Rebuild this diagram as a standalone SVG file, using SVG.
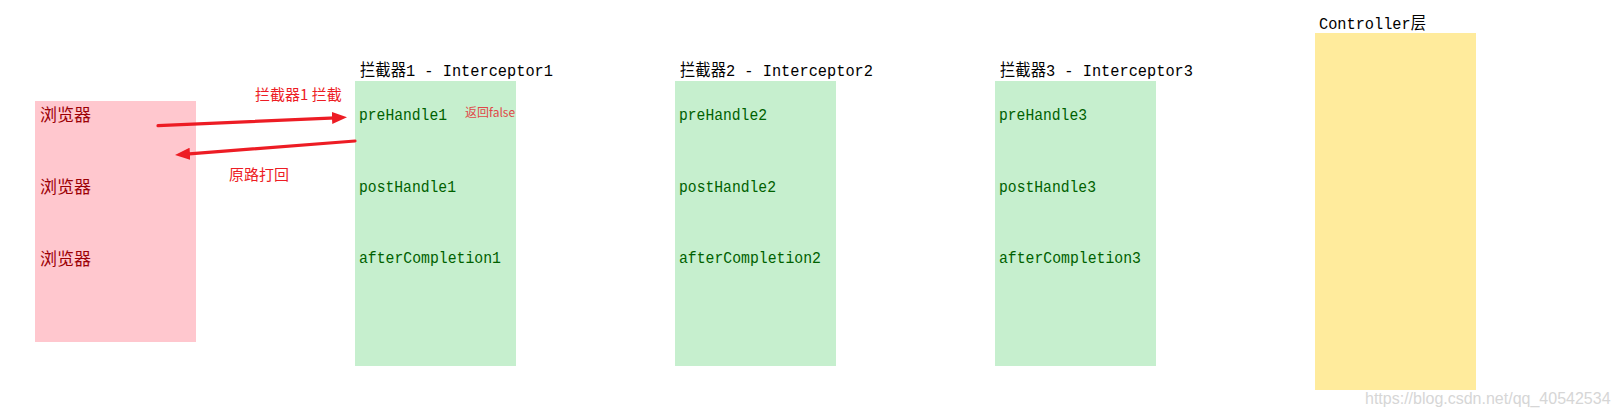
<svg xmlns="http://www.w3.org/2000/svg" width="1617" height="416" viewBox="0 0 1617 416">
  <style>
    .mono { font-family: "Liberation Mono", "Noto Sans CJK SC", monospace; font-size: 16.5px; }
    .title { fill: #000000; }
    .step { fill: #006100; }
    .browser { font-family: "Noto Sans CJK SC", sans-serif; font-size: 17px; fill: #9C0006; }
    .label { font-family: "Noto Sans CJK SC", "Liberation Sans", sans-serif; font-size: 15px; fill: #ED1C24; }
    .small { font-family: "Noto Sans CJK SC", "Liberation Sans", sans-serif; font-size: 12px; fill: #E04848; }
    .arrow { stroke: #ED1C24; stroke-width: 3.2; fill: none; stroke-linecap: round; }
    .wm { font-family: "Liberation Sans", Arial, sans-serif; font-size: 16px; fill: #d6d6d6; }
  </style>
  <defs>
    <marker id="head" markerUnits="userSpaceOnUse" markerWidth="16" markerHeight="13" refX="4" refY="6" orient="auto">
      <path d="M0,0 L15,6 L0,12 Z" fill="#ED1C24"/>
    </marker>
  </defs>
  <rect width="1617" height="416" fill="#ffffff"/>

  <g id="browser">
    <rect x="35" y="101" width="161" height="241" fill="#FFC7CE"/>
    <text class="browser" x="40" y="121">浏览器</text>
    <text class="browser" x="40" y="193">浏览器</text>
    <text class="browser" x="40" y="265">浏览器</text>
  </g>

  <g id="interceptor1">
    <text class="mono title" x="360" y="76" textLength="193" lengthAdjust="spacingAndGlyphs">拦截器1 - Interceptor1</text>
    <rect x="355" y="81" width="161" height="285" fill="#C6EFCE"/>
    <text class="mono step" x="359" y="120" textLength="88" lengthAdjust="spacingAndGlyphs">preHandle1</text>
    <text class="mono step" x="359" y="192" textLength="97" lengthAdjust="spacingAndGlyphs">postHandle1</text>
    <text class="mono step" x="359" y="263" textLength="142" lengthAdjust="spacingAndGlyphs">afterCompletion1</text>
    <text class="small" x="465" y="117">返回false</text>
  </g>

  <g id="interceptor2">
    <text class="mono title" x="680" y="76" textLength="193" lengthAdjust="spacingAndGlyphs">拦截器2 - Interceptor2</text>
    <rect x="675" y="81" width="161" height="285" fill="#C6EFCE"/>
    <text class="mono step" x="679" y="120" textLength="88" lengthAdjust="spacingAndGlyphs">preHandle2</text>
    <text class="mono step" x="679" y="192" textLength="97" lengthAdjust="spacingAndGlyphs">postHandle2</text>
    <text class="mono step" x="679" y="263" textLength="142" lengthAdjust="spacingAndGlyphs">afterCompletion2</text>
  </g>

  <g id="interceptor3">
    <text class="mono title" x="1000" y="76" textLength="193" lengthAdjust="spacingAndGlyphs">拦截器3 - Interceptor3</text>
    <rect x="995" y="81" width="161" height="285" fill="#C6EFCE"/>
    <text class="mono step" x="999" y="120" textLength="88" lengthAdjust="spacingAndGlyphs">preHandle3</text>
    <text class="mono step" x="999" y="192" textLength="97" lengthAdjust="spacingAndGlyphs">postHandle3</text>
    <text class="mono step" x="999" y="263" textLength="142" lengthAdjust="spacingAndGlyphs">afterCompletion3</text>
  </g>

  <g id="controller">
    <text class="mono title" x="1319" y="29" textLength="107" lengthAdjust="spacingAndGlyphs">Controller层</text>
    <rect x="1315" y="33" width="161" height="357" fill="#FFEB9C"/>
  </g>

  <g id="connectors">
    <line class="arrow" x1="158" y1="125.7" x2="336" y2="117.8" marker-end="url(#head)"/>
    <line class="arrow" x1="355" y1="141" x2="186" y2="154.1" marker-end="url(#head)"/>
    <text class="label" x="255" y="100">拦截器1 拦截</text>
    <text class="label" x="229" y="180">原路打回</text>
  </g>

  <text class="wm" x="1365" y="404">https://blog.csdn.net/qq_40542534</text>
</svg>
